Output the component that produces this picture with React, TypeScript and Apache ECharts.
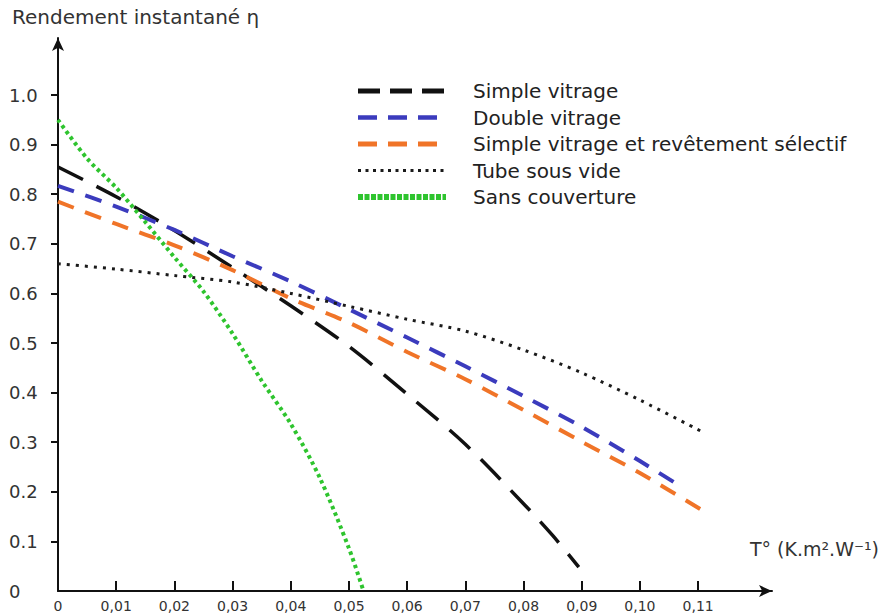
import React, { useEffect, useRef } from "react";
import * as echarts from "echarts";

// Data (x: T° in K.m².W⁻¹, y: efficiency η)
const seriesNames = [
  "Simple vitrage",
  "Double vitrage",
  "Simple vitrage et revêtement sélectif",
  "Tube sous vide",
  "Sans couverture",
];

const simpleVitrage = [
  [0, 0.855], [0.01, 0.795], [0.02, 0.727], [0.03, 0.652], [0.04, 0.575],
  [0.05, 0.493], [0.06, 0.397], [0.07, 0.296], [0.08, 0.176], [0.085, 0.112],
  [0.0895, 0.048],
];
const doubleVitrage = [
  [0, 0.817], [0.01, 0.775], [0.02, 0.728], [0.03, 0.675], [0.04, 0.624],
  [0.05, 0.568], [0.06, 0.511], [0.07, 0.453], [0.08, 0.393], [0.09, 0.331],
  [0.1, 0.262], [0.1066, 0.214],
];
const revetementSelectif = [
  [0, 0.785], [0.01, 0.74], [0.02, 0.697], [0.03, 0.647], [0.04, 0.59],
  [0.05, 0.541], [0.06, 0.482], [0.07, 0.427], [0.08, 0.365], [0.09, 0.301],
  [0.1, 0.238], [0.1115, 0.157],
];
const tubeSousVide = [
  [0, 0.66], [0.01, 0.649], [0.02, 0.636], [0.03, 0.623], [0.04, 0.6],
  [0.05, 0.574], [0.06, 0.548], [0.07, 0.524], [0.08, 0.486], [0.09, 0.44],
  [0.1, 0.385], [0.1112, 0.318],
];
const sansCouverture = [
  [0, 0.95], [0.005, 0.872], [0.01, 0.813], [0.015, 0.744], [0.02, 0.673],
  [0.025, 0.604], [0.03, 0.519], [0.035, 0.424], [0.04, 0.337], [0.045, 0.228],
  [0.05, 0.086], [0.0525, 0],
];

const xTickValues = [0.01, 0.02, 0.03, 0.04, 0.05, 0.06, 0.07, 0.08, 0.09, 0.1, 0.11];
const xLabelValues = [0, 0.01, 0.02, 0.03, 0.04, 0.05, 0.06, 0.07, 0.08, 0.09, 0.1, 0.11];
const yTickValues = [0.1, 0.2, 0.3, 0.4, 0.5, 0.6, 0.7, 0.8, 0.9, 1.0];
const yLabelValues = [0, 0.1, 0.2, 0.3, 0.4, 0.5, 0.6, 0.7, 0.8, 0.9, 1.0];

const yAxisTitle = "Rendement instantané η";
const xAxisTitle = "T° (K.m².W⁻¹)";

const FONT = "'DejaVu Sans', Verdana, sans-serif";

export default function App() {
  const ref = useRef<HTMLDivElement>(null);

  useEffect(() => {
    if (!ref.current) return;
    const chart = echarts.init(ref.current, null, { renderer: "svg" });

    const colors = ["#111111", "#3b3bbd", "#f07428", "#1a1a1a", "#2ec42e"];
    const legendLine = [
      { width: 5, type: [22, 10] },
      { width: 4.5, type: [19, 11] },
      { width: 5, type: [19, 11] },
      { width: 3, type: [3, 4.5] },
      { width: 6, type: [5, 1.5] },
    ];

    const mkLine = (
      name: string,
      data: number[][],
      color: string,
      width: number,
      dash: number[]
    ) => ({
      name,
      type: "line",
      data,
      smooth: 0.3,
      symbol: "none",
      lineStyle: { color, width, type: dash, cap: "butt" },
      itemStyle: { color },
      z: 3,
    });

    chart.setOption({
      animation: false,
      backgroundColor: "#ffffff",
      textStyle: { fontFamily: FONT },
      grid: { left: 58, right: 111, top: 38, bottom: 24, containLabel: false },
      legend: {
        orient: "vertical",
        left: 350,
        top: 76,
        itemWidth: 88,
        itemHeight: 14,
        itemGap: 6.5,
        itemStyle: { opacity: 0 },
        data: seriesNames.map((n, i) => ({
          name: n,
          itemStyle: { opacity: 0 },
          lineStyle: {
            color: colors[i],
            width: legendLine[i].width,
            type: legendLine[i].type,
            cap: "butt",
          },
        })),
        textStyle: {
          fontFamily: FONT,
          fontSize: 20,
          color: "#222",
          padding: [0, 0, 0, 22],
        },
      },
      xAxis: {
        type: "value",
        min: 0,
        max: 0.1227,
        splitLine: { show: false },
        axisLine: {
          show: true,
          symbol: ["none", "arrow"],
          symbolSize: [9, 13],
          lineStyle: { color: "#111", width: 2 },
        },
        axisTick: {
          show: true,
          inside: true,
          length: 10,
          customValues: xTickValues,
          lineStyle: { color: "#111", width: 2 },
        },
        axisLabel: {
          customValues: xLabelValues,
          margin: 8,
          fontSize: 14,
          color: "#333",
          fontFamily: FONT,
          formatter: (v: number) =>
            v === 0 ? "0" : v.toFixed(2).replace(".", ","),
        },
      },
      yAxis: {
        type: "value",
        min: 0,
        max: 1.115,
        splitLine: { show: false },
        axisLine: {
          show: true,
          symbol: ["none", "arrow"],
          symbolSize: [9, 13],
          lineStyle: { color: "#111", width: 2 },
        },
        axisTick: {
          show: true,
          inside: false,
          length: 7,
          customValues: yTickValues,
          lineStyle: { color: "#111", width: 2 },
        },
        axisLabel: {
          customValues: yLabelValues,
          align: "left",
          margin: 49,
          fontSize: 18,
          color: "#333",
          fontFamily: FONT,
          formatter: (v: number) => (v === 0 ? "0" : v.toFixed(1)),
        },
      },
      graphic: [
        {
          type: "text",
          left: 12,
          top: 7,
          style: {
            text: yAxisTitle,
            fontSize: 20,
            fontFamily: FONT,
            fill: "#333",
          },
        },
        {
          type: "text",
          right: 4,
          top: 539,
          style: {
            text: xAxisTitle,
            fontSize: 19,
            fontFamily: FONT,
            fill: "#333",
          },
        },
      ],
      series: [
        mkLine(seriesNames[0], simpleVitrage, colors[0], 3.5, [28, 15]),
        mkLine(seriesNames[1], doubleVitrage, colors[1], 4, [17, 12]),
        mkLine(seriesNames[2], revetementSelectif, colors[2], 4, [17, 12]),
        mkLine(seriesNames[3], tubeSousVide, colors[3], 3, [3, 6]),
        mkLine(seriesNames[4], sansCouverture, colors[4], 4, [3.5, 3.5]),
      ],
    });

    return () => chart.dispose();
  }, []);

  return (
    <div
      ref={ref}
      style={{ position: "fixed", left: 0, top: 0, width: 883, height: 615 }}
    />
  );
}
